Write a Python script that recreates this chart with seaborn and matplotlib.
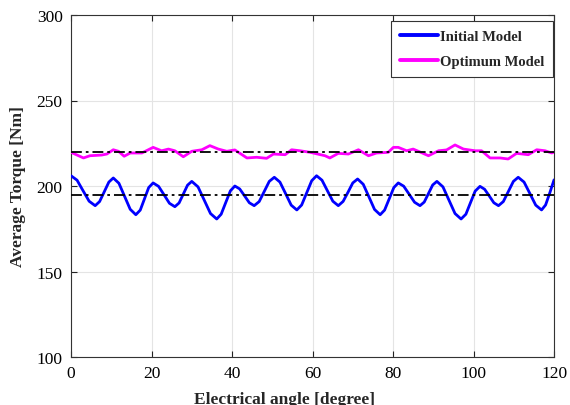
import numpy as np
import pandas as pd
import matplotlib
matplotlib.use("Agg")
import matplotlib.pyplot as plt
import seaborn as sns

# Torque ripple of the initial design (electrical angle in degrees, torque in Nm)
initial_angle = [
    0.0, 1.5, 3.0, 4.5, 6.0, 7.1, 8.25, 9.4, 10.5, 11.9, 13.3, 14.7, 16.1,
    17.2, 18.25, 19.3, 20.4, 21.75, 23.1, 24.45, 25.8, 26.85, 27.9, 28.95,
    30.0, 31.55, 33.1, 34.65, 36.2, 37.3, 38.45, 39.6, 40.7, 41.9, 43.1, 44.3,
    45.5, 46.75, 48.0, 49.25, 50.5, 51.9, 53.3, 54.7, 56.1, 57.3, 58.55, 59.8,
    61.0, 62.35, 63.7, 65.05, 66.4, 67.6, 68.8, 70.0, 71.2, 72.6, 74.0, 75.4,
    76.8, 77.9, 79.05, 80.2, 81.3, 82.65, 84.0, 85.35, 86.7, 87.75, 88.8,
    89.85, 90.9, 92.4, 93.9, 95.4, 96.9, 98.1, 99.25, 100.4, 101.6, 102.75,
    103.9, 105.05, 106.2, 107.4, 108.65, 109.9, 111.1, 112.55, 114.0, 115.45,
    116.9, 117.9, 118.95, 120.0,
]
initial_torque = [
    206.0, 203.4, 197.2, 191.1, 188.5, 190.9, 196.6, 202.3, 204.7, 201.6,
    194.0, 186.4, 183.2, 185.9, 192.5, 199.1, 201.8, 199.8, 194.9, 189.9,
    187.9, 190.1, 195.3, 200.5, 202.7, 199.5, 191.7, 183.9, 180.7, 183.5,
    190.4, 197.2, 200.0, 198.3, 194.3, 190.2, 188.5, 190.9, 196.8, 202.7,
    205.1, 202.3, 195.6, 188.8, 186.0, 188.9, 196.0, 203.1, 206.0, 203.4,
    197.2, 191.1, 188.5, 191.0, 196.3, 201.8, 204.1, 201.0, 193.7, 186.3,
    183.2, 185.9, 192.5, 199.1, 201.8, 199.9, 195.2, 190.5, 188.5, 190.6,
    195.6, 200.6, 202.7, 199.5, 191.7, 183.9, 180.7, 183.5, 190.3, 197.0,
    199.8, 198.1, 194.2, 190.2, 188.5, 190.9, 196.8, 202.7, 205.1, 202.3,
    195.6, 188.8, 186.0, 188.9, 196.0, 203.6,
]

# Torque ripple of the optimised design
optimum_angle = [
    0.0, 3.1, 4.7, 7.6, 8.9, 10.5, 11.8, 13.2, 14.7, 17.6, 20.4, 22.5, 24.2,
    25.8, 27.9, 30.0, 32.5, 34.5, 36.6, 38.7, 40.7, 43.7, 46.1, 48.6, 50.3,
    53.2, 54.8, 56.9, 59.4, 63.1, 64.3, 66.4, 68.9, 71.4, 73.9, 75.9, 78.8,
    80.1, 81.3, 83.4, 85.0, 86.3, 88.8, 91.3, 93.3, 95.4, 97.5, 100.4, 102.0,
    104.1, 106.6, 108.6, 110.7, 113.6, 115.7, 117.8, 119.4, 120.0,
]
optimum_torque = [
    219.7, 216.4, 217.7, 218.1, 218.7, 221.2, 220.3, 217.4, 219.3, 219.3,
    222.6, 220.6, 221.6, 220.6, 217.1, 220.3, 221.2, 223.6, 221.6, 220.3,
    221.1, 216.4, 216.8, 216.2, 218.7, 218.3, 221.2, 220.6, 219.7, 217.7,
    216.4, 219.1, 218.7, 221.2, 217.7, 219.3, 219.7, 222.6, 222.6, 220.6,
    221.6, 220.3, 217.7, 220.6, 221.1, 224.0, 221.6, 220.6, 220.6, 216.4,
    216.4, 215.8, 219.1, 218.3, 221.2, 220.6, 219.3, 219.7,
]

# Average torque levels
initial_mean = 195.0
optimum_mean = 220.0

series_names = ["Initial Model", "Optimum Model"]
series_colors = ["#0000ff", "#ff00ff"]
x_ticks = [0, 20, 40, 60, 80, 100, 120]
y_ticks = [100, 150, 200, 250, 300]

df = pd.concat([
    pd.DataFrame({"angle": initial_angle, "torque": initial_torque,
                  "model": series_names[0]}),
    pd.DataFrame({"angle": optimum_angle, "torque": optimum_torque,
                  "model": series_names[1]}),
], ignore_index=True)

sns.set_style("ticks")
plt.rcParams["font.family"] = ["Liberation Serif", "DejaVu Serif"]

fig = plt.figure(figsize=(5.7, 4.06), dpi=100)
ax = fig.add_axes([0.1246, 0.1182, 0.8474, 0.8424])

ax.grid(True, color="#e4e4e4", linewidth=0.8, zorder=0)
ax.set_axisbelow(True)

sns.lineplot(data=df, x="angle", y="torque", hue="model",
             palette=dict(zip(series_names, series_colors)),
             linewidth=2.0, ax=ax, sort=False, estimator=None, zorder=3)

dashdot = (0, (6, 2.2, 1.5, 2.2))
for level in (initial_mean, optimum_mean):
    ax.axhline(level, color="black", linewidth=1.3, linestyle=dashdot, zorder=4)

ax.set_xlim(0, 120)
ax.set_ylim(100, 300)
ax.set_xticks(x_ticks)
ax.set_yticks(y_ticks)
ax.tick_params(direction="in", top=True, right=True, labelsize=12.5,
               length=4, width=0.8, colors="#222222", labelcolor="black")
ax.tick_params(axis="x", pad=6)
ax.tick_params(axis="y", pad=6)
for s in ax.spines.values():
    s.set_visible(True)
    s.set_linewidth(0.8)
    s.set_color("#333333")

ax.set_xlabel("Electrical angle [degree]", fontsize=12.5, fontweight="bold")
ax.xaxis.set_label_coords(0.443, -0.098)
ax.set_ylabel("Average Torque [Nm]", fontsize=12.5, fontweight="bold",
              labelpad=8)

leg = ax.legend(loc="upper right", frameon=True, fancybox=False,
                edgecolor="#333333", framealpha=1,
                bbox_to_anchor=(0.998, 0.982), borderaxespad=0,
                handlelength=2.6, handletextpad=0.15, borderpad=0.6,
                labelspacing=0.8,
                prop={"family": ["Liberation Serif"], "weight": "bold",
                      "size": 10.5})
leg.get_frame().set_linewidth(0.8)
for line in leg.get_lines():
    line.set_linewidth(2.8)

fig.savefig("out.png", dpi=100)
